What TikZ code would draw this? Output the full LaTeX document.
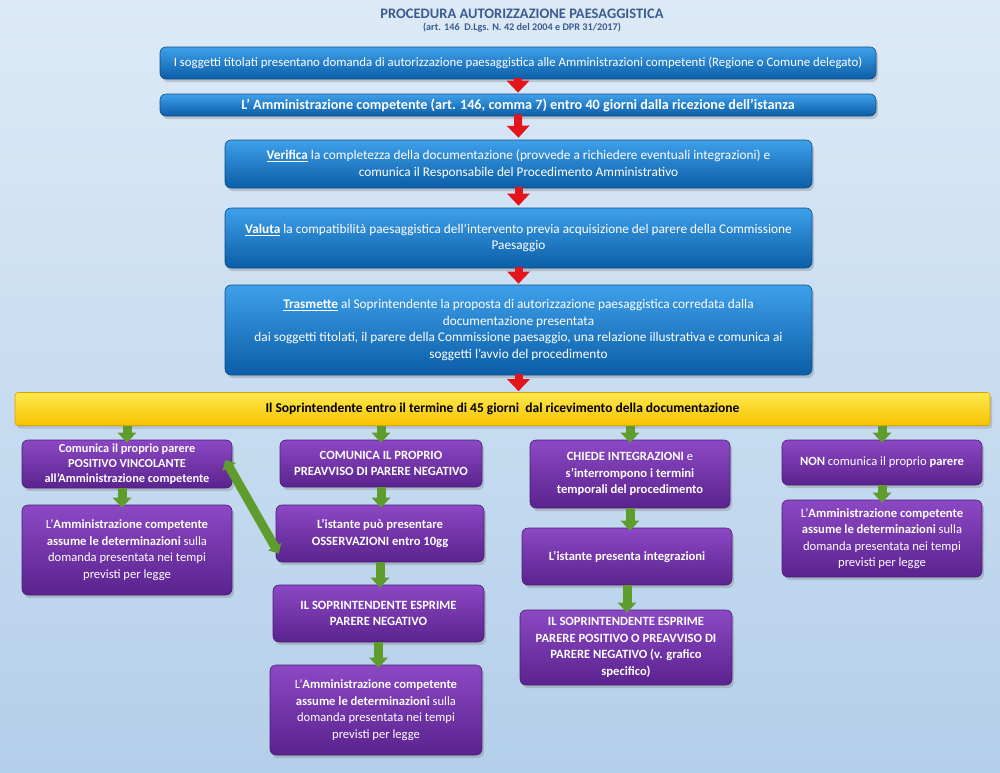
\documentclass[tikz,border=0pt]{standalone}
\usepackage{fontspec}
\setmainfont{Carlito}
\usetikzlibrary{arrows.meta,shadows,calc}
\definecolor{bgtop}{HTML}{DCEAF7}
\definecolor{bgbot}{HTML}{B4CFEA}
\definecolor{bluetop}{HTML}{3FA0EA}
\definecolor{bluebot}{HTML}{0B5DA6}
\definecolor{blueedge}{HTML}{0A4F8A}
\definecolor{purtop}{HTML}{8C48C4}
\definecolor{purbot}{HTML}{5A238E}
\definecolor{puredge}{HTML}{4A1C78}
\definecolor{yeltop}{HTML}{FFE94D}
\definecolor{yelbot}{HTML}{F6C200}
\definecolor{yeledge}{HTML}{D9A300}
\definecolor{titlecol}{HTML}{3D5C8E}
\definecolor{redarr}{HTML}{E3141B}
\definecolor{greenarr}{HTML}{5E9C2E}
\tikzset{
  bluebox/.style={rounded corners=6pt, top color=bluetop, bottom color=bluebot, draw=blueedge, line width=0.6pt,
    drop shadow={shadow xshift=2pt, shadow yshift=-3pt, opacity=0.35},
    text=white, align=center, inner sep=2pt, font=\fontsize{13.3}{16.5}\selectfont},
  purbox/.style={rounded corners=6pt, top color=purtop, bottom color=purbot, draw=puredge, line width=0.6pt,
    drop shadow={shadow xshift=2pt, shadow yshift=-3pt, opacity=0.35},
    text=white, align=center, inner sep=2pt, font=\fontsize{12.6}{16.5}\selectfont},
  purbold/.style={purbox, font=\fontsize{12.6}{16.5}\selectfont\bfseries},
  yelbox/.style={rounded corners=3pt, top color=yeltop, bottom color=yelbot, draw=yeledge, line width=0.6pt,
    drop shadow={shadow xshift=2pt, shadow yshift=-3pt, opacity=0.3},
    text=black, align=center, font=\fontsize{13.5}{15}\selectfont\bfseries},
  redarrow/.style={draw=redarr, line width=8pt, -{Triangle[width=22pt,length=12pt]}},
  greenarrow/.style={draw=greenarr, line width=9pt, -{Triangle[width=18pt,length=10pt]}},
  greendouble/.style={draw=greenarr, line width=9pt, {Triangle[width=15pt,length=8pt]}-{Triangle[width=15pt,length=8pt]}},
}
\begin{document}
\begin{tikzpicture}[x=1pt,y=-1pt]
\useasboundingbox (0,0) rectangle (1000,772);
\shade[top color=bgtop, bottom color=bgbot] (0,0) rectangle (1000,772);

\node[text=titlecol, font=\fontsize{14.5}{16}\selectfont\bfseries] (title) at (522,14) {PROCEDURA AUTORIZZAZIONE PAESAGGISTICA};
\node[text=titlecol, font=\fontsize{10.2}{11}\selectfont\bfseries] (subtitle) at (522,28) {(art. 146\ \ D.Lgs. N. 42 del 2004 e DPR 31/2017)};

\node[bluebox, minimum width=716pt, minimum height=32pt, font=\fontsize{12.8}{15}\selectfont] (b1) at (518,63)
  {I soggetti titolati presentano domanda di autorizzazione paesaggistica alle Amministrazioni competenti (Regione o Comune delegato)};
\node[bluebox, minimum width=716pt, minimum height=22pt, font=\fontsize{14.2}{16}\selectfont\bfseries] (b2) at (518,105)
  {L’ Amministrazione competente (art. 146, comma 7) entro 40 giorni dalla ricezione dell’istanza};
\node[bluebox, minimum width=587pt, minimum height=48pt] (b3) at (518.5,164)
  {\underline{\textbf{Verifica}} la completezza della documentazione (provvede a richiedere eventuali integrazioni) e\\
   comunica il Responsabile del Procedimento Amministrativo};
\node[bluebox, minimum width=587pt, minimum height=60pt] (b4) at (518.5,238)
  {\underline{\textbf{Valuta}} la compatibilità paesaggistica dell’intervento previa acquisizione del parere della Commissione\\
   Paesaggio};
\node[bluebox, minimum width=587pt, minimum height=90pt] (b5) at (518.5,330)
  {\underline{\textbf{Trasmette}} al Soprintendente la proposta di autorizzazione paesaggistica corredata dalla\\
   documentazione presentata\\
   dai soggetti titolati, il parere della Commissione paesaggio, una relazione illustrativa e comunica ai\\
   soggetti l’avvio del procedimento};

\node[yelbox, minimum width=975pt, minimum height=33pt] (y) at (502.5,409)
  {Il Soprintendente entro il termine di 45 giorni\ \ dal ricevimento della documentazione};

% column 1
\node[purbold, minimum width=210pt, minimum height=48pt, font=\fontsize{12.3}{15}\selectfont\bfseries] (a1) at (127,464)
  {Comunica il proprio parere\\ POSITIVO VINCOLANTE\\ all’Amministrazione competente};
\node[purbox, minimum width=210pt, minimum height=90pt] (a2) at (127,550)
  {L’\textbf{Amministrazione competente}\\ \textbf{assume le determinazioni} sulla\\ domanda presentata nei tempi\\ previsti per legge};
% column 2
\node[purbold, minimum width=202pt, minimum height=47pt] (c21) at (381,463.5)
  {COMUNICA IL PROPRIO\\ PREAVVISO DI PARERE NEGATIVO};
\node[purbold, minimum width=208pt, minimum height=57pt] (c22) at (380,533.5)
  {L’istante può presentare\\ OSSERVAZIONI entro 10gg};
\node[purbold, minimum width=211pt, minimum height=57pt] (c23) at (378.5,613.5)
  {IL SOPRINTENDENTE ESPRIME\\ PARERE NEGATIVO};
\node[purbox, minimum width=212pt, minimum height=90pt] (c24) at (376,710)
  {L’\textbf{Amministrazione competente}\\ \textbf{assume le determinazioni} sulla\\ domanda presentata nei tempi\\ previsti per legge};
% column 3
\node[purbold, minimum width=200pt, minimum height=68pt] (c31) at (630,474)
  {CHIEDE INTEGRAZIONI \textmd{e}\\ s’interrompono i termini\\ temporali del procedimento};
\node[purbold, minimum width=210pt, minimum height=57pt] (c32) at (627,556.5)
  {L’istante presenta integrazioni};
\node[purbold, minimum width=212pt, minimum height=75pt] (c33) at (626,647.5)
  {IL SOPRINTENDENTE ESPRIME\\ PARERE POSITIVO O PREAVVISO DI\\ PARERE NEGATIVO (v. grafico\\ specifico)};
% column 4
\node[purbox, minimum width=200pt, minimum height=45pt] (d1) at (882,462.5)
  {\textbf{NON} comunica il proprio \textbf{parere}};
\node[purbox, minimum width=200pt, minimum height=77pt] (d2) at (882,538.5)
  {L’\textbf{Amministrazione competente}\\ \textbf{assume le determinazioni} sulla\\ domanda presentata nei tempi\\ previsti per legge};

% red arrows
\draw[redarrow] ([yshift=1pt]b1.south) -- ([yshift=1pt]b2.north);
\draw[redarrow] ([yshift=2pt]b2.south) -- ([yshift=2pt]b3.north);
\draw[redarrow] ([yshift=1pt]b3.south) -- ([yshift=2pt]b4.north);
\draw[redarrow] ([yshift=1pt]b4.south) -- ([yshift=1pt]b5.north);
\draw[redarrow] ([yshift=1pt]b5.south) -- ([yshift=1pt]b5.south |- y.north);

% green arrows
\draw[greenarrow] (a1.north |- y.south) -- ([yshift=-3pt]a1.north);
\draw[greenarrow] (c21.north |- y.south) -- ([yshift=-3pt]c21.north);
\draw[greenarrow] (c31.north |- y.south) -- ([yshift=-3pt]c31.north);
\draw[greenarrow] (d1.north |- y.south) -- ([yshift=-3pt]d1.north);
\draw[greenarrow] ([xshift=-5pt]a1.south) -- ([xshift=-5pt,yshift=-3pt]a2.north);
\draw[greenarrow] (c21.south) -- ([yshift=-3pt]c21.south |- c22.north);
\draw[greenarrow] (c22.south) -- ([yshift=-3pt]c22.south |- c23.north);
\draw[greenarrow] (c23.south) -- ([yshift=-3pt]c23.south |- c24.north);
\draw[greenarrow] (c31.south) -- ([yshift=-3pt]c31.south |- c32.north);
\draw[greenarrow] (c32.south) -- ([yshift=-3pt]c32.south |- c33.north);
\draw[greenarrow] (d1.south) -- ([yshift=-3pt]d2.north);
\draw[greendouble] ([xshift=-7pt,yshift=4pt]a1.east) -- ([xshift=3pt,yshift=-20pt]c22.west);
\end{tikzpicture}
\end{document}
